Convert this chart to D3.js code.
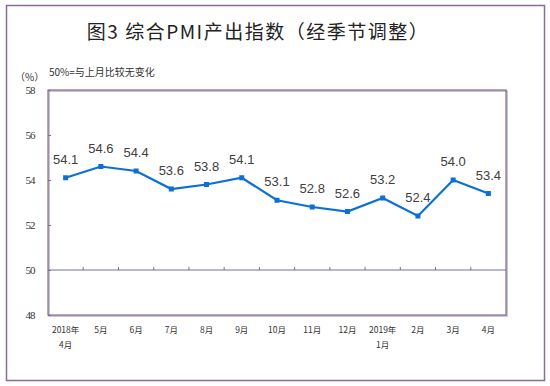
<!DOCTYPE html>
<html>
<head>
<meta charset="utf-8">
<script src="https://d3js.org/d3.v7.min.js"></script>
<style>
  body { margin: 0; background: #fff; }
  text { font-family: "Liberation Serif", "Noto Sans CJK SC", serif; }
</style>
</head>
<body>
<div id="chart"></div>
<script>
// data
var months = ["2018年|4月", "5月", "6月", "7月", "8月", "9月", "10月", "11月", "12月", "2019年|1月", "2月", "3月", "4月"];
var values = [54.1, 54.6, 54.4, 53.6, 53.8, 54.1, 53.1, 52.8, 52.6, 53.2, 52.4, 54.0, 53.4];
var yTicks = [48, 50, 52, 54, 56, 58];

var W = 550, H = 386;
var margin = {top: 90, right: 44, bottom: 71, left: 48};
var width = 506 - margin.left,
    height = 315 - margin.top;

var svg = d3.select("#chart")
  .append("svg")
    .attr("width", W)
    .attr("height", H);

// outer frame
svg.append("rect")
    .attr("x", 6.5).attr("y", 5.5)
    .attr("width", 538).attr("height", 375)
    .attr("fill", "none")
    .attr("stroke", "#8b6a9c")
    .attr("stroke-width", 1.5);

svg.append("text")
    .attr("x", 258)
    .attr("y", 39)
    .attr("text-anchor", "middle")
    .style("font-family", "'Noto Sans CJK SC', sans-serif")
    .style("font-size", "19px")
    .style("font-weight", "400")
    .style("letter-spacing", "1.5px")
    .style("fill", "#222")
    .text("图3 综合PMI产出指数（经季节调整）");

svg.append("text")
    .attr("x", 15).attr("y", 81)
    .style("font-family", "'Noto Sans CJK SC', sans-serif")
    .style("font-size", "10px")
    .style("fill", "#333")
    .text("（%）");

svg.append("text")
    .attr("x", 49).attr("y", 76)
    .style("font-family", "'Noto Sans CJK SC', sans-serif")
    .style("font-size", "10px")
    .style("fill", "#333")
    .text("50%=与上月比较无变化");

var g = svg.append("g")
    .attr("transform", "translate(" + margin.left + "," + margin.top + ")");

var x = d3.scaleBand()
    .domain(months)
    .range([0, width]);

var y = d3.scaleLinear()
    .domain([48, 58])
    .range([height, 0]);

// plot frame: shadow then purple
g.append("rect")
    .attr("x", 1).attr("y", 1)
    .attr("width", width).attr("height", height)
    .attr("fill", "none")
    .attr("stroke", "#a0a0a0")
    .attr("stroke-width", 1.2);
g.append("rect")
    .attr("x", 0).attr("y", 0)
    .attr("width", width).attr("height", height)
    .attr("fill", "none")
    .attr("stroke", "#86699a")
    .attr("stroke-width", 1.2);

// y axis
var yAxis = g.append("g")
    .call(d3.axisRight(y).tickValues(yTicks).tickSize(3).tickFormat(""));
yAxis.select(".domain").remove();
yAxis.selectAll(".tick line").attr("stroke", "#86699a");

g.selectAll(".ylab")
  .data(yTicks)
  .enter()
  .append("text")
    .attr("class", "ylab")
    .attr("x", -18)
    .attr("y", function(d) { return y(d) + 4; })
    .attr("text-anchor", "middle")
    .style("font-size", "11px")
    .style("fill", "#333")
    .style("letter-spacing", "-1px")
    .text(function(d) { return d; });

// 50 line with ticks at category boundaries
g.append("line")
    .attr("x1", 0).attr("x2", width)
    .attr("y1", y(50)).attr("y2", y(50))
    .attr("stroke", "#7670a6")
    .attr("stroke-width", 1.2);

g.selectAll(".xtick")
  .data(months.slice(1))
  .enter()
  .append("line")
    .attr("class", "xtick")
    .attr("x1", function(d) { return x(d); })
    .attr("x2", function(d) { return x(d); })
    .attr("y1", y(50))
    .attr("y2", y(50) - 3)
    .attr("stroke", "#555")
    .attr("stroke-width", 0.8);

// x labels
var xl = g.selectAll(".xlab")
  .data(months)
  .enter()
  .append("text")
    .attr("class", "xlab")
    .attr("x", function(d) { return x(d) + x.bandwidth() / 2; })
    .attr("y", height + 18)
    .attr("text-anchor", "middle")
    .style("font-family", "'Noto Sans CJK SC', serif")
    .style("font-size", "8.5px")
    .style("fill", "#333");
xl.each(function(d) {
  var parts = d.split("|");
  var t = d3.select(this);
  parts.forEach(function(p, i) {
    t.append("tspan")
      .attr("x", x(d) + x.bandwidth() / 2)
      .attr("dy", i === 0 ? 0 : 15)
      .text(p);
  });
});

// line
var pts = months.map(function(m, i) { return {m: m, v: values[i]}; });
var line = d3.line()
    .x(function(d) { return x(d.m) + x.bandwidth() / 2; })
    .y(function(d) { return y(d.v); });

g.append("path")
    .datum(pts)
    .attr("d", line)
    .attr("fill", "none")
    .attr("stroke", "#0a6fd8")
    .attr("stroke-width", 2.2);

g.selectAll(".mk")
  .data(pts)
  .enter()
  .append("rect")
    .attr("class", "mk")
    .attr("x", function(d) { return x(d.m) + x.bandwidth() / 2 - 2.5; })
    .attr("y", function(d) { return y(d.v) - 2.5; })
    .attr("width", 5)
    .attr("height", 5)
    .attr("fill", "#0a6fd8");

g.selectAll(".vlab")
  .data(pts)
  .enter()
  .append("text")
    .attr("class", "vlab")
    .attr("x", function(d) { return x(d.m) + x.bandwidth() / 2; })
    .attr("y", function(d) { return y(d.v) - 14; })
    .attr("text-anchor", "middle")
    .style("font-family", "'Liberation Sans', Arial, sans-serif")
    .style("font-size", "13px")
    .style("fill", "#404040")
    .text(function(d) { return d.v.toFixed(1); });
</script>
</body>
</html>
